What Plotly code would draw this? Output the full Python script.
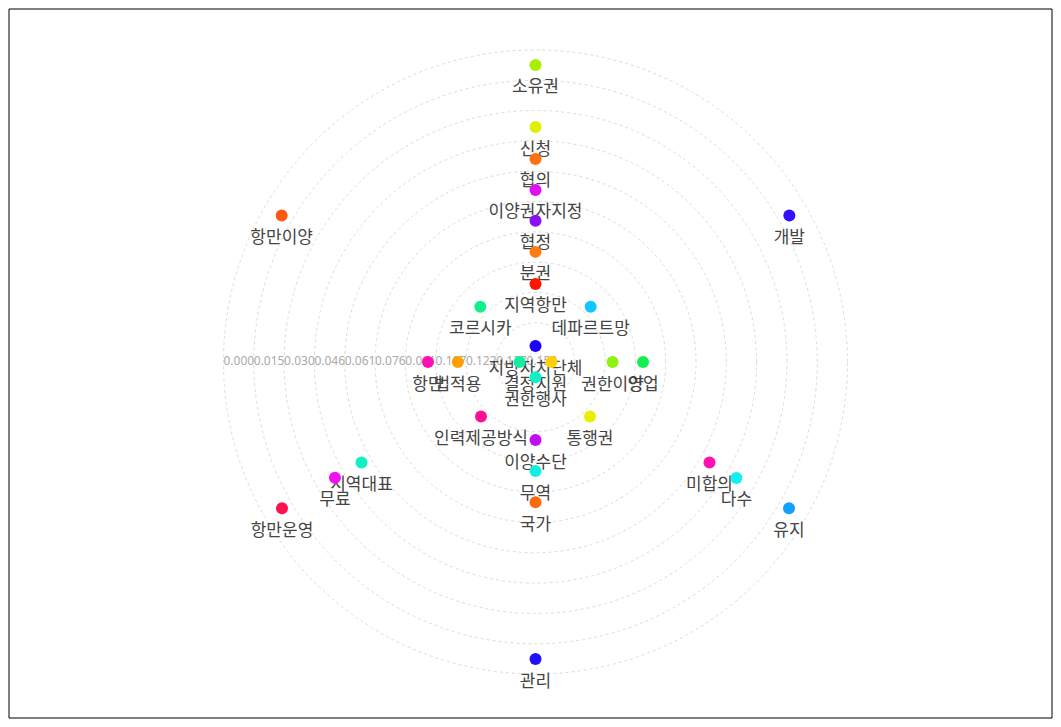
import plotly.graph_objects as go

# ---- data ----
words = ["소유권", "신청", "협의", "이양권자지정", "협정", "분권", "지역항만",
         "코르시카", "데파르트망", "지방자치단체", "결정", "지원", "권한행사",
         "권한이양", "영업", "항만", "법적용", "인력제공방식", "통행권",
         "이양수단", "무역", "국가", "관리", "지역대표", "무료", "항만운영",
         "미합의", "다수", "유지", "항만이양", "개발"]
angles = [90, 90, 90, 90, 90, 90, 90,
          135, 45, 90, 180, 0, 270,
          0, 0, 180, 180, 225, 315,
          270, 270, 270, 270, 210, 210, 210,
          330, 330, 330, 150, 30]
values = [0.0075, 0.0387, 0.0547, 0.0703, 0.0858, 0.1014, 0.1175,
          0.1175, 0.1175, 0.1487, 0.1487, 0.1487, 0.1490,
          0.1180, 0.1027, 0.1027, 0.1177, 0.1180, 0.1180,
          0.1175, 0.1019, 0.0863, 0.0075, 0.0558, 0.0404, 0.0097,
          0.0558, 0.0402, 0.0097, 0.0095, 0.0095]
colors = ["#a8f000", "#dcf200", "#ff7010", "#e010f0", "#8c10f0", "#ff7a10", "#ff1400",
          "#10f08c", "#10c8ff", "#1a00ff", "#10f0a0", "#ffd000", "#10f0c8",
          "#90f010", "#10f050", "#ff10b4", "#ffa000", "#ff1090", "#e8f000",
          "#c010f0", "#10f0e0", "#ff6a10", "#2010ff", "#10f0c0", "#f010f0", "#ff1050",
          "#ff10b0", "#10f0f0", "#10a0ff", "#ff5a10", "#3010ff"]
tick_values = [0.0, 0.01522, 0.03044, 0.04566, 0.06088, 0.0761, 0.09132,
               0.10654, 0.12176, 0.13698, 0.1522]
tick_labels = ["0.000", "0.015", "0.030", "0.046", "0.061", "0.076", "0.091",
               "0.107", "0.122", "0.137", "0.152"]

W, H = 1045, 711
ML, MR, MT, MB = 10, 0, 34, 37
PW, PH = W - ML - MR, H - MT - MB

fig = go.Figure()

# radial tick labels
fig.add_trace(go.Scatterpolar(
    r=tick_values, theta=[180] * len(tick_values), mode="text",
    text=tick_labels, textposition="middle right",
    textfont=dict(family="Noto Sans, DejaVu Sans, sans-serif", size=12, color="#aaaaaa"),
    hoverinfo="skip", showlegend=False))

# word labels (invisible spacer marker pushes the text below the dot)
fig.add_trace(go.Scatterpolar(
    r=values, theta=angles, mode="markers+text", text=words,
    textposition="bottom center",
    marker=dict(size=22, opacity=0),
    textfont=dict(family="Noto Sans CJK KR", size=17, color="#444444"),
    hoverinfo="skip", showlegend=False))

# points
fig.add_trace(go.Scatterpolar(
    r=values, theta=angles, mode="markers",
    marker=dict(size=12, color=colors, line=dict(width=0)),
    text=words, hoverinfo="text+r", showlegend=False))

fig.update_layout(
    width=W, height=H,
    margin=dict(l=ML, r=MR, t=MT, b=MB, pad=0),
    paper_bgcolor="white", plot_bgcolor="white",
    polar=dict(
        domain=dict(x=[0, 1], y=[0, 1]),
        bgcolor="white",
        radialaxis=dict(range=[0.1567, -0.0040], tickvals=tick_values,
                        showticklabels=False, ticks="", showline=False,
                        showgrid=True, gridcolor="#dcdcdc", griddash="dot",
                        gridwidth=1, angle=180),
        angularaxis=dict(showgrid=False, showline=False, showticklabels=False,
                         ticks="", direction="counterclockwise", rotation=0),
    ),
    shapes=[dict(type="rect", xref="paper", yref="paper",
                 x0=(1 - ML) / PW, x1=(W - 1 - ML) / PW,
                 y0=(H - MB - (H - 1)) / PH, y1=(H - MB - 1) / PH,
                 line=dict(color="black", width=1), fillcolor="rgba(0,0,0,0)",
                 layer="above")],
)

fig.write_html("out.html")
